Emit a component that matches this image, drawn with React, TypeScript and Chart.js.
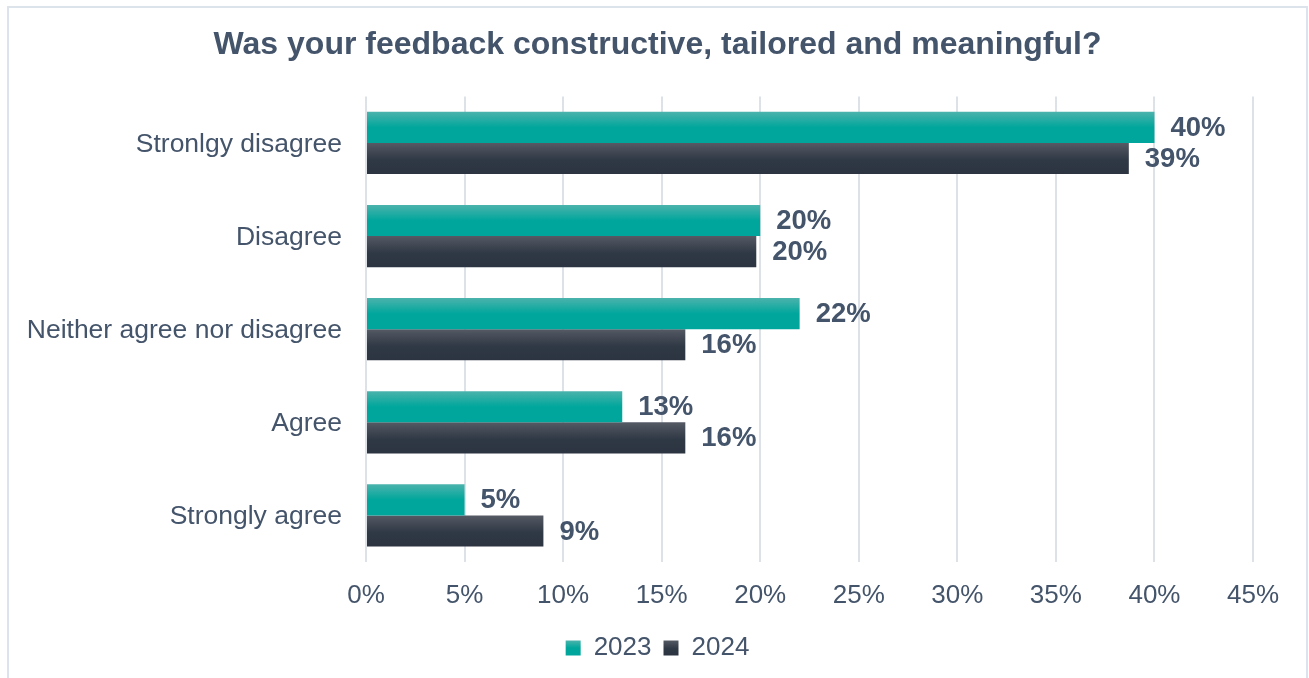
import React, { useEffect, useRef } from "react";
import { Chart, registerables } from "chart.js";

Chart.register(...registerables);

const categories = [
  "Stronlgy disagree",
  "Disagree",
  "Neither agree nor disagree",
  "Agree",
  "Strongly agree",
];
const series2023 = [40, 20, 22, 13, 5];
const series2024 = [38.7, 19.8, 16.2, 16.2, 9];
const seriesNames = ["2023", "2024"];
const xTicks = [0, 5, 10, 15, 20, 25, 30, 35, 40, 45];

const TEXT = "#44546A";
const FONT = "'Liberation Sans', Arial, sans-serif";
const CAT_PCT = 0.668;

const gradStops: [number, string][][] = [
  [
    [0, "#4BB3AC"],
    [0.5, "#00A69C"],
    [1, "#00A69C"],
  ],
  [
    [0, "#555A64"],
    [0.55, "#2F3845"],
    [1, "#2B3440"],
  ],
];

function makeGrad(c: CanvasRenderingContext2D, top: number, bottom: number, ds: number) {
  const g = c.createLinearGradient(0, top, 0, bottom);
  gradStops[ds].forEach(([o, col]) => g.addColorStop(o, col));
  return g;
}

function barBg(ds: number) {
  return (ctx: any) => {
    const chart = ctx.chart;
    const area = chart.chartArea;
    const y = chart.scales?.y;
    if (!area || !y || ctx.dataIndex === undefined) return gradStops[ds][1][1];
    const catH = (area.bottom - area.top) / categories.length;
    const barH = (catH * CAT_PCT) / 2;
    const center = y.getPixelForValue(ctx.dataIndex);
    const top = center - barH + ds * barH;
    return makeGrad(chart.ctx, top, top + barH, ds);
  };
}

const dataLabelPlugin = {
  id: "dataLabels",
  afterDatasetsDraw(chart: any) {
    const c = chart.ctx;
    c.save();
    c.font = `bold 27.5px ${FONT}`;
    c.fillStyle = TEXT;
    c.textAlign = "left";
    c.textBaseline = "middle";
    chart.data.datasets.forEach((ds: any, di: number) => {
      const meta = chart.getDatasetMeta(di);
      meta.data.forEach((bar: any, i: number) => {
        c.fillText(`${Math.round(ds.data[i])}%`, bar.x + 16, bar.y + 1);
      });
    });
    c.restore();
  },
};

const legendGradPlugin = {
  id: "legendGrad",
  beforeDraw(chart: any) {
    const lg = chart.legend;
    if (!lg || !lg.legendItems || !lg.legendHitBoxes) return;
    lg.legendItems.forEach((item: any, i: number) => {
      const hb = lg.legendHitBoxes[i];
      if (!hb) return;
      const boxH = 15;
      const top = hb.top + (26 - boxH) / 2;
      item.fillStyle = makeGrad(chart.ctx, top, top + boxH, i);
    });
  },
};

export default function App() {
  const ref = useRef<HTMLCanvasElement>(null);
  useEffect(() => {
    if (!ref.current) return;
    const chart = new Chart(ref.current, {
      type: "bar",
      data: {
        labels: categories,
        datasets: [
          {
            label: seriesNames[0],
            data: series2023,
            backgroundColor: barBg(0),
            borderWidth: 0,
            barPercentage: 1,
            categoryPercentage: CAT_PCT,
          },
          {
            label: seriesNames[1],
            data: series2024,
            backgroundColor: barBg(1),
            borderWidth: 0,
            barPercentage: 1,
            categoryPercentage: CAT_PCT,
          },
        ],
      },
      options: {
        indexAxis: "y",
        responsive: false,
        animation: false,
        devicePixelRatio: 1,
        layout: { padding: { left: 0, right: 0, top: 0, bottom: 9 } },
        plugins: {
          title: {
            display: true,
            text: "Was your feedback constructive, tailored and meaningful?",
            color: TEXT,
            font: { family: FONT, size: 32, weight: "bold" },
            padding: { top: 17.5, bottom: 32.5 },
          },
          legend: {
            display: true,
            position: "bottom",
            labels: {
              color: TEXT,
              font: { family: FONT, size: 26 },
              boxWidth: 15,
              boxHeight: 15,
              padding: 12,
            },
          },
          tooltip: { enabled: false },
        },
        scales: {
          x: {
            min: 0,
            max: 45,
            afterBuildTicks: (s: any) => {
              s.ticks = xTicks.map((v) => ({ value: v }));
            },
            afterFit: (s: any) => {
              s.height = 61;
            },
            ticks: {
              color: TEXT,
              font: { family: FONT, size: 26 },
              padding: 18,
              callback: (v: any) => `${v}%`,
            },
            grid: { color: "#DDE2E9", lineWidth: 2, drawTicks: false },
            border: { display: false },
          },
          y: {
            afterFit: (s: any) => {
              s.width = 357;
            },
            ticks: {
              color: TEXT,
              font: { family: FONT, size: 26.5 },
              padding: 24,
              labelOffset: 1.5,
            },
            grid: { display: false, drawTicks: false },
            border: { display: false },
          },
          spacer: {
            type: "category",
            position: "right",
            axis: "y",
            labels: categories,
            afterFit: (s: any) => {
              s.width = 53;
            },
            ticks: { display: false },
            grid: { display: false, drawTicks: false },
            border: { display: false },
          },
        },
      },
      plugins: [dataLabelPlugin, legendGradPlugin],
    } as any);
    return () => chart.destroy();
  }, []);

  return (
    <div
      style={{
        position: "fixed",
        left: 7,
        top: 6,
        width: 1301,
        height: 690,
        boxSizing: "border-box",
        border: "2px solid #DDE3EA",
        borderBottom: "none",
        background: "#fff",
      }}
    >
      <canvas ref={ref} width={1297} height={672} style={{ display: "block", width: 1297, height: 672 }} />
    </div>
  );
}
